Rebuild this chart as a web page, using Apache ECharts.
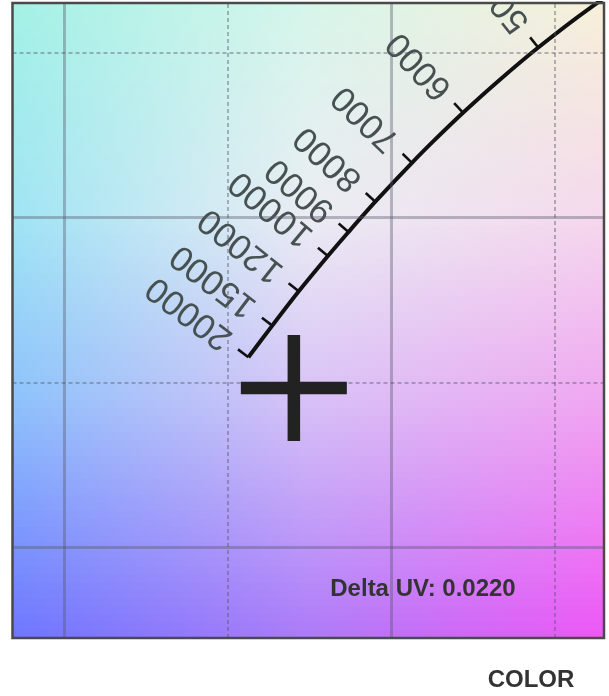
<!DOCTYPE html>
<html><head><meta charset="utf-8">
<script src="https://cdn.jsdelivr.net/npm/echarts@6/dist/echarts.min.js"></script>
<style>html,body{margin:0;padding:0;background:#fff;}#c{width:609px;height:696px;}</style>
</head><body><div id="c"></div>
<script>
// ---- data (CIE 1931 xy) ----
const locusTemps = [4000, 4500, 5000, 5500, 6000, 6500, 7000, 8000, 9000, 10000, 12000, 15000, 20000];
const locusX = [0.3805, 0.3607, 0.3450, 0.3323, 0.3220, 0.3135, 0.3064, 0.2952, 0.2870, 0.2807, 0.2718, 0.2637, 0.2564];
const locusY = [0.3767, 0.3635, 0.3516, 0.3410, 0.3318, 0.3237, 0.3166, 0.3048, 0.2956, 0.2883, 0.2776, 0.2672, 0.2576];
const tickTemps = [5000, 6000, 7000, 8000, 9000, 10000, 12000, 15000, 20000];
const tickLabels = ['5000', '6000', '7000', '8000', '9000', '10000', '12000', '15000', '20000'];
const markerPoint = [0.2703, 0.2483];
const deltaUVText = 'Delta UV: 0.0220';
const modeText = 'COLOR';
const solidGridX = [0.20, 0.30];
const dashedGridX = [0.25, 0.35];
const solidGridY = [0.20, 0.30];
const dashedGridY = [0.25, 0.35];
const xRange = [0.1843, 0.3651];
const yRange = [0.1724, 0.3651];

// ---- layout / style ----
const G = {left: 12.5, top: 3, width: 591.5, height: 635};
const bgRows = [
  [0.00, '#a3f1e6', '#d6f6ea', '#f7efd9'],
  [0.33, '#a0e5f4', '#ebedf3', '#f5d9ec'],
  [0.62, '#8dc3fb', '#d8c2f7', '#f0a7f1'],
  [1.00, '#6d76ff', '#ac7af8', '#ee56f6']
];
function hex2rgb(h){return [parseInt(h.substr(1,2),16),parseInt(h.substr(3,2),16),parseInt(h.substr(5,2),16)];}
function mix(a,b,t){const A=hex2rgb(a),B=hex2rgb(b);return 'rgb('+A.map((v,i)=>Math.round(v+(B[i]-v)*t)).join(',')+')';}
function rowColors(f){
  for(let i=0;i<bgRows.length-1;i++){
    const r0=bgRows[i], r1=bgRows[i+1];
    if(f<=r1[0]){const t=(f-r0[0])/(r1[0]-r0[0]);return [mix(r0[1],r1[1],t),mix(r0[2],r1[2],t),mix(r0[3],r1[3],t)];}
  }
  const r=bgRows[bgRows.length-1];return [r[1],r[2],r[3]];
}
const bgEls = [];
const N = 80;
for(let i=0;i<N;i++){
  const c = rowColors((i+0.5)/N);
  bgEls.push({type:'rect', z:-10, silent:true,
    shape:{x:G.left, y:G.top+G.height*i/N, width:G.width, height:G.height/N+1},
    style:{fill:new echarts.graphic.LinearGradient(0,0,1,0,[{offset:0,color:c[0]},{offset:0.5,color:c[1]},{offset:1,color:c[2]}])}});
}

const chart = echarts.init(document.getElementById('c'));
const locusData = locusX.map((x,i)=>[x, locusY[i]]);
const tickData = tickTemps.map((t,i)=>{const k=locusTemps.indexOf(t);return [locusX[k], locusY[k], k];});

const solidLS = {color:'rgba(85,85,105,0.38)', width:3, type:'solid'};
const dashLS = {color:'rgba(85,85,105,0.42)', width:2, type:[4,3]};
const gridLines = []
  .concat(solidGridX.map(v=>({xAxis:v, lineStyle:solidLS})))
  .concat(dashedGridX.map(v=>({xAxis:v, lineStyle:dashLS})))
  .concat(solidGridY.map(v=>({yAxis:v, lineStyle:solidLS})))
  .concat(dashedGridY.map(v=>({yAxis:v, lineStyle:dashLS})));

chart.setOption({
  animation:false,
  grid:{left:G.left, top:G.top, width:G.width, height:G.height, show:false},
  xAxis:{type:'value', min:xRange[0], max:xRange[1], show:false, splitLine:{show:false}},
  yAxis:{type:'value', min:yRange[0], max:yRange[1], show:false, splitLine:{show:false}},
  graphic: bgEls.concat([
    {type:'rect', z:100, silent:true, shape:{x:G.left, y:G.top, width:G.width, height:G.height},
      style:{fill:'none', stroke:'#4a4a4a', lineWidth:2.5}},
    {type:'text', z:100, x:423, y:589, style:{text:deltaUVText, fill:'#333', font:'bold 24px "Liberation Sans", Arial, sans-serif', align:'center', verticalAlign:'middle'}},
    {type:'text', z:100, x:531, y:680, style:{text:modeText, fill:'#333', font:'bold 24px "Liberation Sans", Arial, sans-serif', align:'center', verticalAlign:'middle'}}
  ]),
  series:[
    {type:'line', data:[], silent:true, z:1,
      markLine:{silent:true, symbol:'none', label:{show:false}, animation:false, data:gridLines}},
    {type:'line', data:locusData, smooth:0.3, showSymbol:false, silent:true, z:3,
      lineStyle:{color:'#111', width:4}},
    {type:'custom', z:4, clip:true, silent:true, data:tickData,
      renderItem:function(params, api){
        const k = api.value(2);
        const p = api.coord([api.value(0), api.value(1)]);
        const a = api.coord(locusData[Math.max(0,k-1)]);
        const b = api.coord(locusData[Math.min(locusData.length-1,k+1)]);
        const tx = a[0]-b[0], ty = a[1]-b[1];
        const phi = Math.atan2(-ty, tx);
        const psi = phi + Math.PI/2;
        const ux = Math.cos(psi), uy = -Math.sin(psi);
        const label = tickLabels[params.dataIndex];
        return {type:'group', children:[
          {type:'line', shape:{x1:p[0], y1:p[1], x2:p[0]+ux*13, y2:p[1]+uy*13}, style:{stroke:'#111', lineWidth:2.6}},
          {type:'text', x:p[0]+ux*25, y:p[1]+uy*25, rotation:psi,
            style:{text:label, fill:'#475151', font:'35px "Liberation Sans", Arial, sans-serif', align:'left', verticalAlign:'middle'}}
        ]};
      }},
    {type:'scatter', z:5, silent:true, data:[markerPoint],
      symbol:'path://M44.1,0H55.9V44.1H100V55.9H55.9V100H44.1V55.9H0V44.1H44.1Z', symbolSize:106,
      itemStyle:{color:'#222', opacity:1}}
  ]
});
</script></body></html>
